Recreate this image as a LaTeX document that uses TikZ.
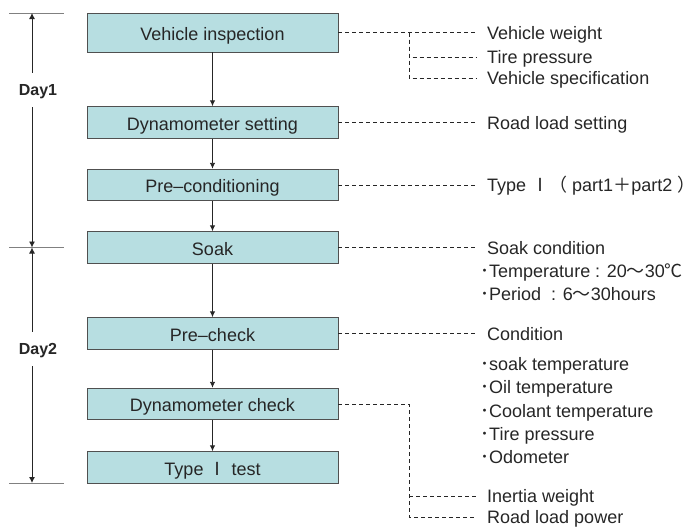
\documentclass[tikz,border=0pt]{standalone}
\usepackage{fontspec}
\setmainfont{Liberation Sans}
\newfontfamily\jp{Noto Sans CJK JP}
\usetikzlibrary{arrows.meta}
\definecolor{boxfill}{HTML}{B7DEE1}
\definecolor{boxline}{HTML}{505050}
\definecolor{ink}{HTML}{262626}
\begin{document}
\begin{tikzpicture}[x=1pt,y=-1pt,
  font=\fontsize{18}{20}\selectfont,
  box/.style={draw=boxline, line width=0.9pt, fill=boxfill, minimum width=251pt,
    minimum height=31.5pt, inner sep=0pt, text=ink, text height=15pt, text depth=0pt},
  flow/.style={-{Latex[length=6pt,width=5.5pt]}, draw=ink, line width=0.9pt},
  conn/.style={draw=ink, line width=0.9pt, dash pattern=on 4pt off 3pt},
  lbl/.style={anchor=base west, inner sep=0pt, text=ink},
  tickline/.style={draw=gray, line width=0.8pt},
  dimline/.style={{Latex[length=6pt,width=6pt]}-{Latex[length=6pt,width=6pt]}, draw=ink, line width=0.9pt},
  day/.style={font=\bfseries\fontsize{16}{18}\selectfont, fill=white, inner xsep=2pt,
    minimum height=34pt, text height=11.5pt, text depth=0pt, text=ink}
]
\useasboundingbox (0,0) rectangle (698,530);

% ---- process boxes
\node[box, minimum height=39pt] (b1) at (212.5,32.5) {Vehicle inspection};
\node[box] (b2) at (212.5,122.5) {Dynamometer setting};
\node[box] (b3) at (212.5,185) {Pre–conditioning};
\node[box] (b4) at (212.5,247.5) {Soak};
\node[box] (b5) at (212.5,333.5) {Pre–check};
\node[box] (b6) at (212.5,404) {Dynamometer check};
\node[box] (b7) at (212.5,467.5) {Type {\jp Ⅰ} test};

\draw[flow] (b1) -- (b2);
\draw[flow] (b2) -- (b3);
\draw[flow] (b3) -- (b4);
\draw[flow] (b4) -- (b5);
\draw[flow] (b5) -- (b6);
\draw[flow] (b6) -- (b7);

% ---- day dimension lines
\coordinate (d0) at (32,13);
\coordinate (d1) at (32,247.5);
\coordinate (d2) at (32,483);
\draw[tickline] (9,13) -- (64,13);
\draw[tickline] (9,247.5) -- (64,247.5);
\draw[tickline] (9,483) -- (64,483);
\draw[dimline] (d0) -- (d1);
\draw[dimline] (d1) -- (d2);
\node[day] (day1) at (38,90) {Day1};
\node[day] (day2) at (38,349) {Day2};

% ---- right-hand texts
\node[lbl] (vw) at (487,39) {Vehicle weight};
\node[lbl] (tp) at (487,63.5) {Tire pressure};
\node[lbl] (vs) at (487,84.5) {Vehicle specification};
\node[lbl] (rls) at (487,129) {Road load setting};
\node[lbl] (ty) at (487,191.5) {Type {\jp Ⅰ（} part1{\jp ＋}part2 {\jp ）}};
\node[lbl] (sc) at (487,254) {Soak condition};
\node[lbl] (tmp) at (480,277.5) {{\jp ･}Temperature : 20{\jp ～}30{\jp ℃}};
\node[lbl] (per) at (480,300.5) {{\jp ･}Period\ \ : 6{\jp ～}30hours};
\node[lbl] (cd) at (487,340) {Condition};
\node[lbl] (st) at (480,370.5) {{\jp ･}soak temperature};
\node[lbl] (ot) at (480,393.5) {{\jp ･}Oil temperature};
\node[lbl] (ct) at (480,417.5) {{\jp ･}Coolant temperature};
\node[lbl] (tr) at (480,440.5) {{\jp ･}Tire pressure};
\node[lbl] (od) at (480,463.5) {{\jp ･}Odometer};
\node[lbl] (iw) at (487,502.5) {Inertia weight};
\node[lbl] (rlp) at (487,523.5) {Road load power};

% ---- dashed connectors
\coordinate (e1) at (477,32.5);
\coordinate (j1) at (409,32.5);
\coordinate (e1b) at (477,57);
\coordinate (e1c) at (477,78);
\draw[conn] (b1.east) -- (e1);
\draw[conn] (j1) |- (e1b);
\draw[conn] (j1) |- (e1c);

\draw[conn] (b2.east) -- (b2.east -| e1);
\draw[conn] (b3.east) -- (b3.east -| e1);
\draw[conn] (b4.east) -- (b4.east -| e1);
\draw[conn] (b5.east) -- (b5.east -| e1);

\coordinate (j6a) at (409,496);
\coordinate (j6b) at (409,517);
\coordinate (e6a) at (477,496);
\coordinate (e6b) at (477,517);
\draw[conn] (b6.east) -| (j6b) -- (e6b);
\draw[conn] (j6a) -- (e6a);
\end{tikzpicture}
\end{document}
